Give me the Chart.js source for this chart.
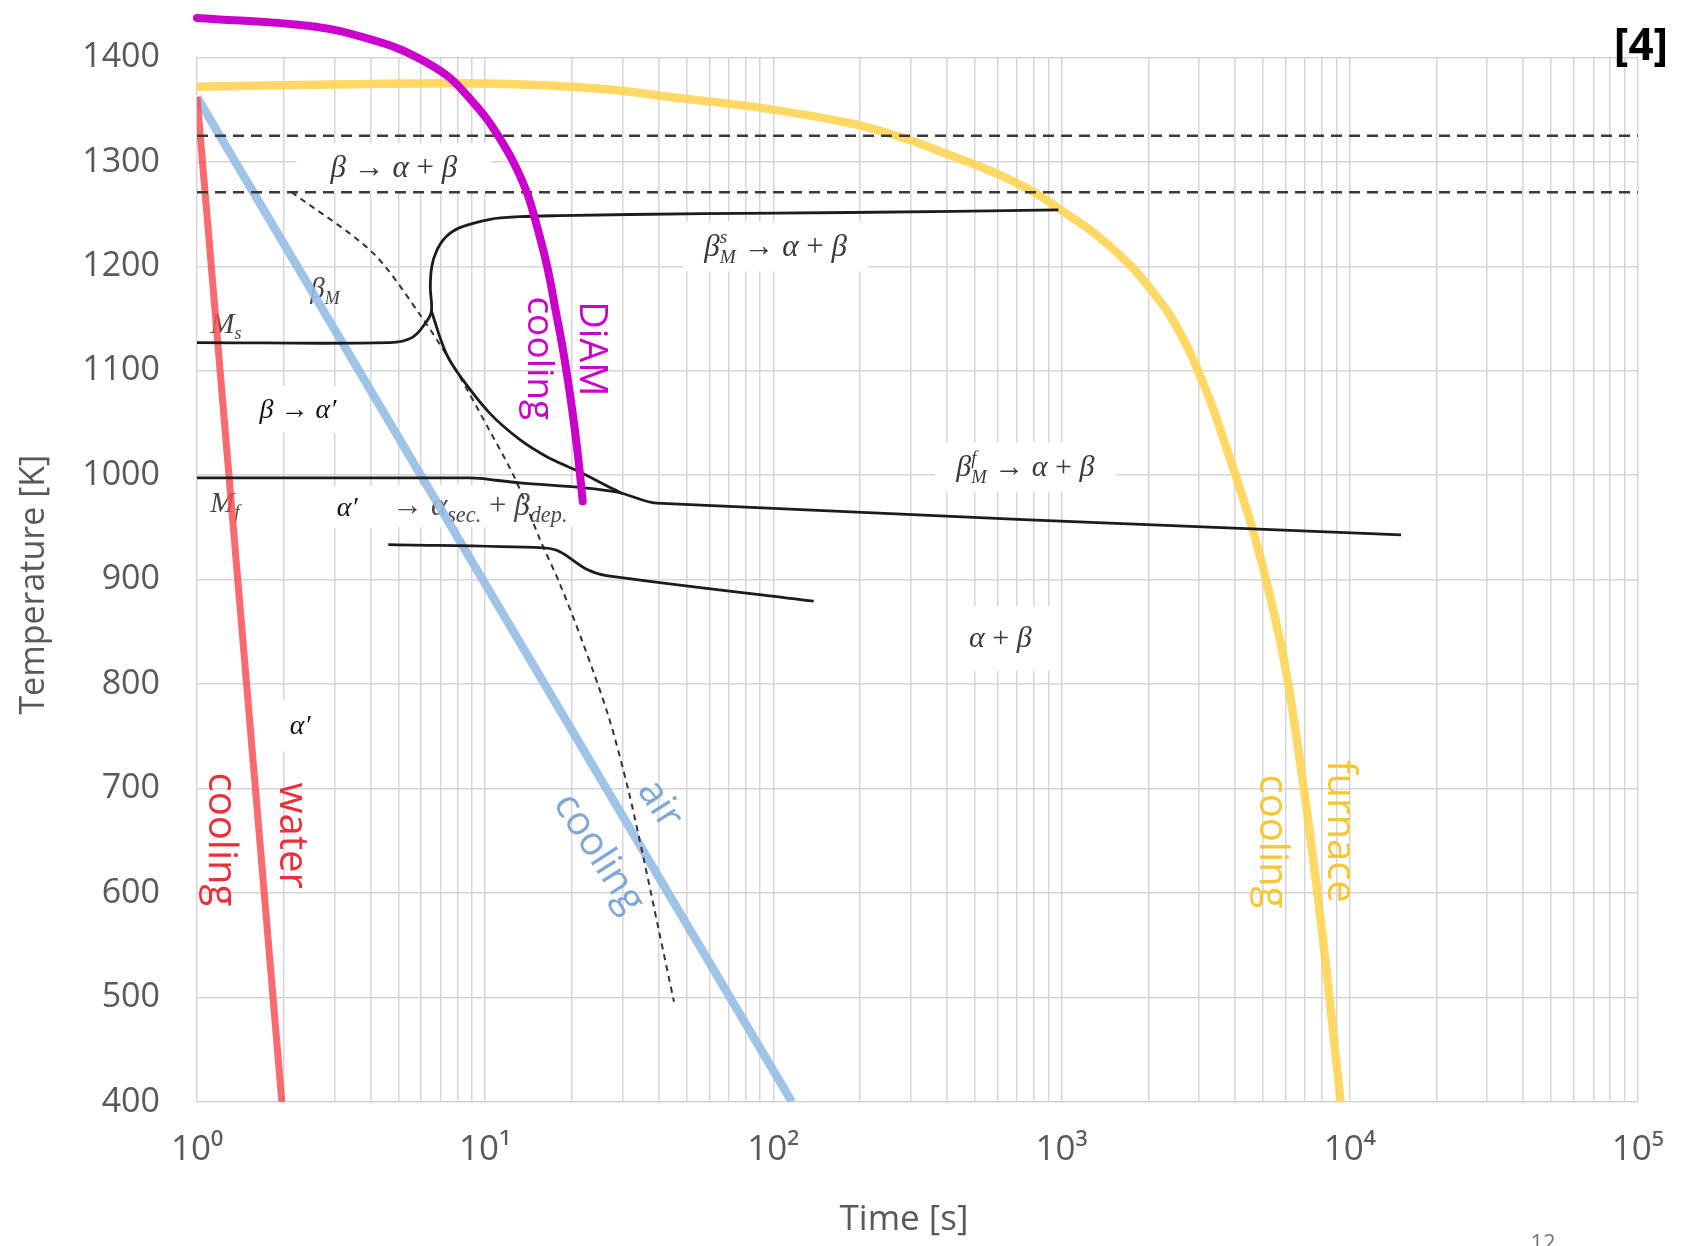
<!DOCTYPE html>
<html>
<head>
<meta charset="utf-8">
<script src="https://cdn.jsdelivr.net/npm/chart.js@4.4.0/dist/chart.umd.min.js"></script>
<style>
  html, body { margin: 0; padding: 0; background: #fff; }
  canvas { display: block; }
</style>
</head>
<body>
<canvas id="cct" width="1691" height="1246"></canvas>
<script>
// Time axis: decades and minor grid steps
const xDecades = [1, 10, 100, 1000, 10000, 100000];
const xDecadeLabels = ['10⁰', '10¹', '10²', '10³', '10⁴', '10⁵'];
const minorSteps = [2, 3, 4, 5, 6, 7, 8, 9];

// Cooling curves (time in s, temperature in K)
const waterTime = [1, 1.97];
const waterTemp = [1362, 400];
const airTime = [1, 116];
const airTemp = [1362, 400];
const furnaceTime = [1, 3, 10, 25, 48.6, 94.5, 184, 274, 408, 609, 793, 1009, 1317, 1718, 2016, 2365, 2774, 3006, 3343, 3524, 4027, 4600, 5255, 6003, 6856, 7627, 8400, 9300];
const furnaceTemp = [1372, 1374, 1375, 1370, 1360.6, 1351, 1337, 1324, 1306.7, 1287.6, 1271.7, 1252.7, 1230.5, 1202, 1179.7, 1154, 1119.3, 1097, 1065.4, 1046.7, 999, 948.6, 887.6, 813.3, 709.1, 612.4, 513.3, 400];
const diamTime = [1, 2.545, 4.31, 5.62, 7.34, 8.84, 10.1, 11.23, 12.5, 13.91, 14.86, 16.34, 17.58, 18.73, 19.97, 20.94, 21.8];
const diamTemp = [1437.8, 1429.5, 1414.6, 1402, 1383, 1360.7, 1341.6, 1322.6, 1300.3, 1271.7, 1246, 1202, 1157, 1116, 1065.7, 1021, 975];

// Transformation lines
const msTime = [1, 4.67, 5.59, 6.22, 6.51, 6.45, 6.53, 6.79, 7.3, 8.17, 10.4, 13.2, 18.1, 56.8, 184, 975];
const msTemp = [1127, 1127, 1132, 1146, 1157, 1180, 1200, 1215, 1228, 1237, 1245, 1247.5, 1248.5, 1250.5, 1251.5, 1254];
const noseTime = [6.51, 7.34, 8.38, 10.4, 13.2, 16.3, 21.3, 27.7, 30];
const noseTemp = [1157, 1116, 1091, 1059, 1034, 1018, 1003, 987, 982.5];
const mfTime = [1, 8.8, 9.6, 13.2, 21.3, 27.7, 30, 39.3, 15070];
const mfTemp = [997.5, 997.5, 997, 992.6, 988.3, 984.5, 982.5, 973.3, 943];
const secTime = [4.61, 15.9, 18.1, 22.5, 26.3, 138];
const secTemp = [933.6, 930.5, 927, 910, 904, 879.5];
const betaMTime = [2.13, 4.05, 6.0, 8.0, 10.3, 12.7, 15.5, 18.1, 21.8, 26.8, 31.3, 35.4, 40, 45.2];
const betaMTemp = [1271, 1213.6, 1152, 1098.4, 1044, 996.7, 938.4, 897, 840, 769, 700, 634, 565, 496];
const transusTemps = [1325, 1271];

const xGridValues = [];
xDecades.forEach((d, i) => {
  xGridValues.push(d);
  if (i < xDecades.length - 1) minorSteps.forEach(m => xGridValues.push(m * d));
});

const pts = (xs, ys) => xs.map((x, i) => ({x: x, y: ys[i]}));
const line = (label, xs, ys, color, width, extra) => Object.assign({
  label: label,
  data: pts(xs, ys),
  borderColor: color,
  borderWidth: width,
  pointRadius: 0,
  fill: false,
  tension: 0,
  capBezierPoints: false
}, extra || {});

const black = '#1c1c1c';
const xEnds = [xDecades[0], xDecades[xDecades.length - 1]];

// Text in the diagram, anchored at (time, temperature)
const mathLabels = [
  {t: 4.82, T: 1294, size: 31, color: '#3a3a3a', box: [195, 50], parts: [['β'], [' → ', 'u'], ['α'], [' + ', 'u'], ['β']]},
  {t: 101.8, T: 1219, size: 31, color: '#3a3a3a', box: [185, 50], parts: [['β'], ['M', 'ss', 's'], [' → ', 'u'], ['α'], [' + ', 'u'], ['β']]},
  {t: 2.24, T: 1063, size: 28, color: '#111', box: [95, 47], parts: [['β'], [' → ', 'u'], ['α′']]},
  {t: 3.32, T: 969.5, size: 28, color: '#111', box: [56, 42], parts: [['α′']]},
  {t: 9.58, T: 970.5, size: 31, sub: 0.72, color: '#4a4a4a', box: [215, 42], parts: [['→ ', 'u'], ['α'], ['sec.', 'sub'], [' + ', 'u'], ['β'], ['dep.', 'sub']]},
  {t: 749, T: 1007.6, size: 30, color: '#3a3a3a', box: [180, 50], parts: [['β'], ['M', 'ss', 'f'], [' → ', 'u'], ['α'], [' + ', 'u'], ['β']]},
  {t: 613, T: 843.8, size: 30, color: '#3a3a3a', box: [102, 65], parts: [['α'], [' + ', 'u'], ['β']]},
  {t: 2.28, T: 760.5, size: 28, color: '#111', box: [52, 52], parts: [['α′']]},
  {t: 1.26, T: 1144.8, size: 29, color: '#444', parts: [['M'], ['s', 'sub']]},
  {t: 1.25, T: 973.3, size: 29, color: '#444', parts: [['M'], ['f', 'sub']]},
  {t: 2.78, T: 1178, size: 29, color: '#444', parts: [['β'], ['M', 'sub']]}
];

const coolingLabels = [
  {t: 23.2, T: 1121, text: 'DiAM', angle: 90, color: '#cc00cc', size: 38},
  {t: 15.3, T: 1112, text: 'cooling', angle: 90, color: '#cc00cc', size: 37},
  {t: 2.12, T: 655, text: 'water', angle: 90, color: '#ec2f3a', size: 40},
  {t: 1.21, T: 651.4, text: 'cooling', angle: 90, color: '#ec2f3a', size: 40},
  {t: 40.3, T: 685, text: 'air', angle: 57, color: '#7ea8d8', size: 40},
  {t: 24.7, T: 638, text: 'cooling', angle: 57, color: '#7ea8d8', size: 40},
  {t: 9230, T: 659, text: 'furnace', angle: 90, color: '#f8c630', size: 40},
  {t: 5366, T: 649.5, text: 'cooling', angle: 90, color: '#f8c630', size: 40}
];

const mathFont = '"Liberation Serif", "DejaVu Serif", serif';
const sansFont = '"Open Sans", "Noto Sans", sans-serif';
const axisGray = '#595959';

function drawMath(ctx, parts, cx, cy, size, color, subRatio) {
  const small = size * (subRatio || 0.62);
  const fontOf = (s, up) => (up ? '' : 'italic ') + s + 'px ' + mathFont;
  const items = parts.map(([txt, mode, extra]) => {
    let w;
    if (mode === 'sub') {
      ctx.font = fontOf(small);
      w = ctx.measureText(txt).width;
    } else if (mode === 'ss') {
      ctx.font = fontOf(small);
      w = Math.max(ctx.measureText(txt).width, ctx.measureText(extra).width);
    } else {
      ctx.font = fontOf(size, mode === 'u');
      w = ctx.measureText(txt).width;
    }
    return {txt, mode, extra, w};
  });
  const total = items.reduce((a, it) => a + it.w, 0);
  let x = cx - total / 2;
  const base = cy + size * 0.3;
  ctx.fillStyle = color;
  ctx.textAlign = 'left';
  ctx.textBaseline = 'alphabetic';
  items.forEach(it => {
    if (it.mode === 'sub') {
      ctx.font = fontOf(small);
      ctx.fillText(it.txt, x, base + size * 0.22);
    } else if (it.mode === 'ss') {
      ctx.font = fontOf(small);
      ctx.fillText(it.txt, x, base + size * 0.22);
      ctx.fillText(it.extra, x, base - size * 0.42);
    } else {
      ctx.font = fontOf(size, it.mode === 'u');
      ctx.fillText(it.txt, x, base);
    }
    x += it.w;
  });
}

const annotations = {
  id: 'annotations',
  beforeDatasetsDraw(chart) {
    const {ctx, scales: {x, y}} = chart;
    ctx.save();
    mathLabels.forEach(l => {
      const px = x.getPixelForValue(l.t);
      const py = y.getPixelForValue(l.T);
      if (l.box) {
        ctx.fillStyle = '#fff';
        ctx.fillRect(px - l.box[0] / 2, py - l.box[1] / 2, l.box[0], l.box[1]);
      }
      drawMath(ctx, l.parts, px, py, l.size, l.color, l.sub);
    });
    ctx.restore();
  },
  afterDatasetsDraw(chart) {
    const {ctx, scales: {x, y}} = chart;
    ctx.save();
    coolingLabels.forEach(l => {
      ctx.save();
      ctx.translate(x.getPixelForValue(l.t), y.getPixelForValue(l.T));
      ctx.rotate(l.angle * Math.PI / 180);
      ctx.font = l.size + 'px ' + sansFont;
      ctx.fillStyle = l.color;
      ctx.textAlign = 'center';
      ctx.textBaseline = 'middle';
      ctx.fillText(l.text, 0, 0);
      ctx.restore();
    });
    ctx.restore();
  },
  afterDraw(chart) {
    const {ctx, chartArea} = chart;
    ctx.save();
    // axis titles
    ctx.fillStyle = axisGray;
    ctx.textAlign = 'center';
    ctx.textBaseline = 'middle';
    ctx.font = '35px ' + sansFont;
    ctx.fillText('Time [s]', 904, 1220);
    ctx.translate(34, (chartArea.top + chartArea.bottom) / 2 + 5);
    ctx.rotate(-Math.PI / 2);
    ctx.font = '34px ' + sansFont;
    ctx.fillText('Temperature [K]', 0, 0);
    ctx.restore();

    ctx.save();
    ctx.fillStyle = '#000';
    ctx.font = 'bold 44px ' + sansFont;
    ctx.textAlign = 'center';
    ctx.textBaseline = 'middle';
    ctx.fillText('[4]', 1641, 47);
    ctx.fillStyle = '#777';
    ctx.font = '22px ' + sansFont;
    ctx.textBaseline = 'top';
    ctx.fillText('12', 1543, 1233);
    ctx.restore();
  }
};

const ctx = document.getElementById('cct').getContext('2d');
new Chart(ctx, {
  type: 'line',
  data: {
    datasets: [
      line('DiAM cooling', diamTime, diamTemp, '#cc00cc', 8, {tension: 0.4, clip: false, borderCapStyle: 'round'}),
      line('Ms / beta_M^s', msTime, msTemp, black, 2.8, {tension: 0.35}),
      line('nose', noseTime, noseTemp, black, 2.8, {tension: 0.35}),
      line('Mf / beta_M^f', mfTime, mfTemp, black, 2.8, {tension: 0.3}),
      line('alpha sec', secTime, secTemp, black, 2.8, {tension: 0.3}),
      line('beta_M', betaMTime, betaMTemp, '#333', 2, {tension: 0.3, borderDash: [6, 5]}),
      line('transus 1', xEnds, [transusTemps[0], transusTemps[0]], '#3a3a3a', 2.5, {borderDash: [11, 7]}),
      line('transus 2', xEnds, [transusTemps[1], transusTemps[1]], '#3a3a3a', 2.5, {borderDash: [11, 7]}),
      line('water cooling', waterTime, waterTemp, 'rgba(250, 80, 85, 0.85)', 7),
      line('air cooling', airTime, airTemp, 'rgba(150, 190, 228, 0.9)', 8.5),
      line('furnace cooling', furnaceTime, furnaceTemp, 'rgba(255, 212, 85, 0.9)', 8.5, {tension: 0.4})
    ]
  },
  options: {
    responsive: false,
    animation: false,
    devicePixelRatio: 1,
    layout: {padding: {top: 52, right: 52, left: 0, bottom: 0}},
    elements: {line: {capBezierPoints: false}},
    plugins: {
      legend: {display: false},
      tooltip: {enabled: false}
    },
    scales: {
      x: {
        type: 'logarithmic',
        min: xEnds[0],
        max: xEnds[1],
        afterBuildTicks: (s) => { s.ticks = xGridValues.map(v => ({value: v})); },
        afterFit: (s) => { s.height = 144; },
        ticks: {
          autoSkip: false,
          maxRotation: 0,
          padding: 27,
          color: axisGray,
          font: {family: sansFont, size: 35},
          callback: (v) => {
            const i = xDecades.indexOf(v);
            return i >= 0 ? xDecadeLabels[i] : '';
          }
        },
        grid: {color: '#d6d6d6', lineWidth: 1.5, drawTicks: false},
        border: {display: false}
      },
      y: {
        min: 400,
        max: 1400,
        afterFit: (s) => { s.width = 197; },
        ticks: {
          stepSize: 100,
          padding: 37,
          color: axisGray,
          font: {family: sansFont, size: 34},
          callback: (v) => String(v)
        },
        grid: {color: '#d6d6d6', lineWidth: 1.5, drawTicks: false},
        border: {display: false}
      }
    }
  },
  plugins: [annotations]
});
</script>
</body>
</html>
